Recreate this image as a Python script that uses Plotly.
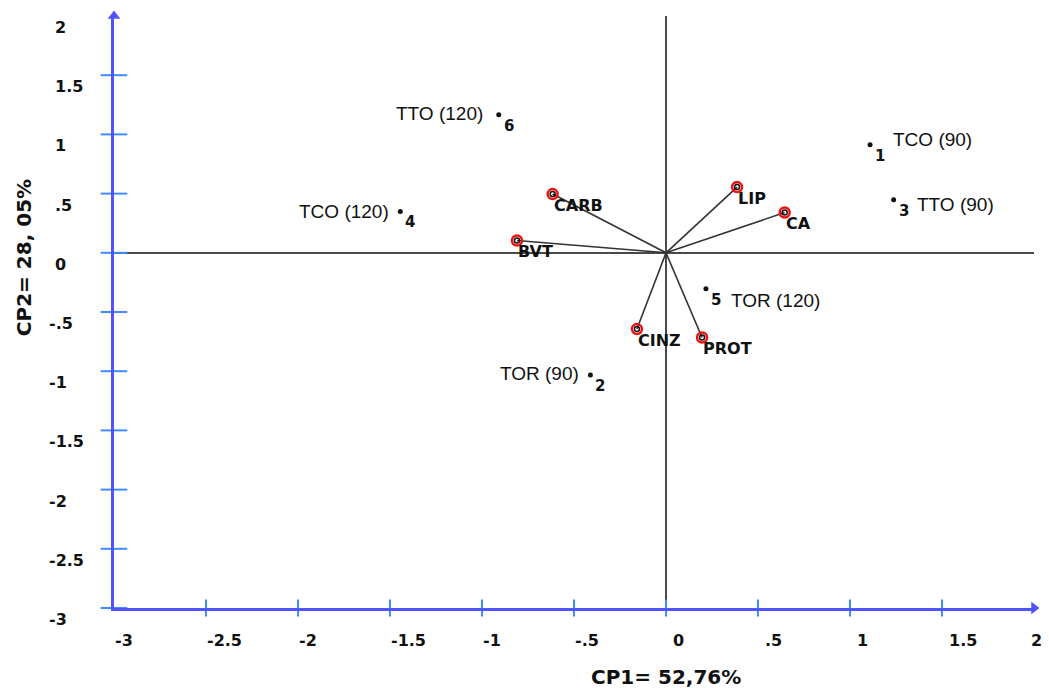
import plotly.graph_objects as go

# ---- data ----
score_ids = ["1", "2", "3", "4", "5", "6"]
score_names = ["TCO (90)", "TOR (90)", "TTO (90)", "TCO (120)", "TOR (120)", "TTO (120)"]
score_x = [1.109, -0.411, 1.237, -1.444, 0.217, -0.909]
score_y = [0.912, -1.033, 0.448, 0.349, -0.304, 1.166]

var_names = ["CARB", "BVT", "LIP", "CA", "CINZ", "PROT"]
var_x = [-0.616, -0.810, 0.386, 0.645, -0.158, 0.196]
var_y = [0.496, 0.104, 0.555, 0.340, -0.644, -0.715]

x_ticks = [-3, -2.5, -2, -1.5, -1, -0.5, 0, 0.5, 1, 1.5, 2]
x_tick_text = ["-3", "-2.5", "-2", "-1.5", "-1", "-.5", "0", ".5", "1", "1.5", "2"]
y_ticks = [2, 1.5, 1, 0.5, 0, -0.5, -1, -1.5, -2, -2.5, -3]
y_tick_text = ["2", "1.5", "1", ".5", "0", "-.5", "-1", "-1.5", "-2", "-2.5", "-3"]

x_title = "CP1= 52,76%"
y_title = "CP2= 28, 05%"

# ---- style ----
AXIS_BLUE = "#4f52ff"
TICK_BLUE = "#3f8cff"
BOLD = "DejaVu Sans"
REG = "Liberation Sans, Arial, sans-serif"
INK = "#111111"
# name label placement per score point (anchor, dx, dy in px)
name_anchor = ["left", "right", "left", "right", "left", "right"]
name_dx = [21, -9, 21, -9, 23, -14]
name_dy = [5, 2, -5, 0, -12, 1]

XMIN, XMAX = x_ticks[0], x_ticks[-1]
YMIN, YMAX = y_ticks[-1], y_ticks[0]


def bfont(size):
    return dict(family=BOLD, size=size, color=INK, weight="bold")


fig = go.Figure()

# vector lines from origin
lx, ly = [], []
for vx, vy in zip(var_x, var_y):
    lx += [0, vx, None]
    ly += [0, vy, None]
fig.add_trace(go.Scatter(x=lx, y=ly, mode="lines",
                         line=dict(color="#333333", width=1.6),
                         hoverinfo="skip", showlegend=False))
# vector end markers
fig.add_trace(go.Scatter(x=var_x, y=var_y, mode="markers",
                         marker=dict(symbol="circle-open", size=10, color="#ee1111",
                                     line=dict(width=2.5, color="#ee1111")),
                         hoverinfo="skip", showlegend=False))
fig.add_trace(go.Scatter(x=var_x, y=var_y, mode="markers",
                         marker=dict(symbol="circle-open", size=5, color=INK,
                                     line=dict(width=1.5, color=INK)),
                         text=var_names, hoverinfo="text", showlegend=False))
# score points
fig.add_trace(go.Scatter(x=score_x, y=score_y, mode="markers",
                         marker=dict(symbol="circle", size=5, color=INK),
                         text=score_names, hoverinfo="text", showlegend=False))

# tick marks crossing the axes
fig.add_trace(go.Scatter(x=x_ticks[1:-1], y=[YMIN] * (len(x_ticks) - 2), mode="markers",
                         marker=dict(symbol="line-ns", size=12,
                                     line=dict(width=2, color=TICK_BLUE)),
                         hoverinfo="skip", showlegend=False, cliponaxis=False))
fig.add_trace(go.Scatter(x=[XMIN] * (len(y_ticks) - 1), y=y_ticks[1:], mode="markers",
                         marker=dict(symbol="line-ew", size=19,
                                     line=dict(width=2, color=TICK_BLUE)),
                         hoverinfo="skip", showlegend=False, cliponaxis=False))
# arrow heads
fig.add_trace(go.Scatter(x=[XMIN], y=[YMAX], mode="markers",
                         marker=dict(symbol="triangle-up", size=11, color=AXIS_BLUE),
                         hoverinfo="skip", showlegend=False, cliponaxis=False))
fig.add_trace(go.Scatter(x=[XMAX], y=[YMIN], mode="markers",
                         marker=dict(symbol="triangle-right", size=11, color=AXIS_BLUE),
                         hoverinfo="skip", showlegend=False, cliponaxis=False))

ann = []
# x tick labels
for k, (v, t) in enumerate(zip(x_ticks, x_tick_text)):
    if t.startswith("-"):
        dx = -1
    elif k == len(x_ticks) - 1:
        dx = -5  # keep the last label inside the page edge
    else:
        dx = 5
    ann.append(dict(x=v, y=0, xref="x", yref="paper", text=t, showarrow=False,
                    xanchor="left", yanchor="middle", xshift=dx,
                    yshift=-32, font=bfont(16)))
# y tick labels
for v, t in zip(y_ticks, y_tick_text):
    ann.append(dict(x=0, y=v, xref="paper", yref="y", text=t, showarrow=False,
                    xanchor="left", yanchor="middle", xshift=(-67 if t.startswith("-") else -61),
                    yshift=-11.5, font=bfont(16)))
# score ids and names
for i in range(len(score_ids)):
    ann.append(dict(x=score_x[i], y=score_y[i], xref="x", yref="y", text=score_ids[i],
                    showarrow=False, xanchor="center", yanchor="middle",
                    xshift=10, yshift=-11, font=bfont(15)))
    ann.append(dict(x=score_x[i], y=score_y[i], xref="x", yref="y", text=score_names[i],
                    showarrow=False, xanchor=name_anchor[i], yanchor="middle",
                    xshift=name_dx[i], yshift=name_dy[i],
                    font=dict(family=REG, size=19, color=INK)))
# variable names
for i in range(len(var_names)):
    ann.append(dict(x=var_x[i], y=var_y[i], xref="x", yref="y", text=var_names[i],
                    showarrow=False, xanchor="left", yanchor="middle",
                    xshift=-1, yshift=-11, font=bfont(16)))
# axis titles
ann.append(dict(x=0.5995, y=0, xref="paper", yref="paper", text=x_title, showarrow=False,
                xanchor="center", yanchor="middle", yshift=-69, font=bfont(20)))
ann.append(dict(x=-0.0978, y=0.591, xref="paper", yref="paper", text=y_title, showarrow=False,
                xanchor="center", yanchor="middle", textangle=-90, font=bfont(20)))

# the page body has an 8px default margin, so the figure is 8px smaller and offset
fig.update_layout(
    width=1041, height=680,
    margin=dict(l=106, r=15, t=8, b=80),
    paper_bgcolor="white", plot_bgcolor="white",
    showlegend=False,
    annotations=ann,
    xaxis=dict(range=[XMIN, XMAX], showgrid=False, showticklabels=False, ticks="",
               showline=True, linecolor=AXIS_BLUE, linewidth=3,
               zeroline=True, zerolinecolor="#4a4a4a", zerolinewidth=2, fixedrange=True),
    yaxis=dict(range=[YMIN, YMAX], showgrid=False, showticklabels=False, ticks="",
               showline=True, linecolor=AXIS_BLUE, linewidth=3,
               zeroline=True, zerolinecolor="#4a4a4a", zerolinewidth=2, fixedrange=True),
)

fig.write_html("out.html")
